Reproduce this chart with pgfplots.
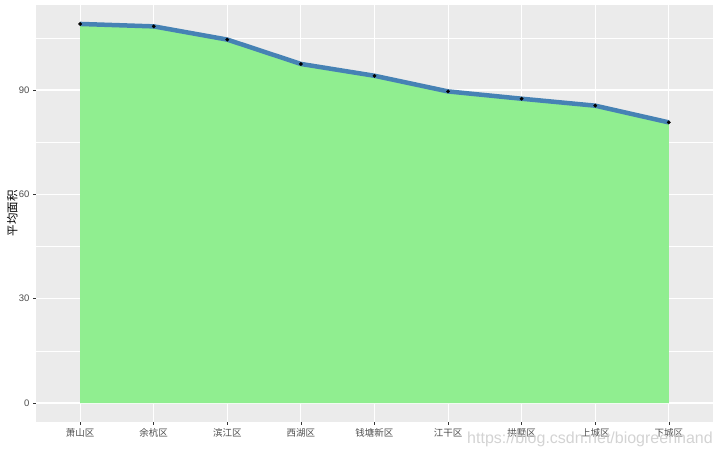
\documentclass[border=0pt]{standalone}
\usepackage{fontspec}
\setmainfont{Liberation Sans}
\newfontfamily\cjk{Noto Sans CJK SC}
\usepackage{pgfplots}
\pgfplotsset{compat=1.18}
\definecolor{panel}{HTML}{EBEBEB}
\definecolor{lgreen}{HTML}{90EE90}
\definecolor{steel}{HTML}{4682B4}
\definecolor{tickc}{HTML}{4D4D4D}
\definecolor{tickm}{HTML}{333333}
\definecolor{wm}{HTML}{C8C8C8}
\begin{document}
\begin{tikzpicture}
\useasboundingbox (0pt,0pt) rectangle (720pt,457pt);
\begin{axis}[
  at={(36pt,35pt)}, anchor=south west,
  scale only axis, width=677pt, height=417pt,
  xmin=0.4, xmax=9.6, ymin=-5.45, ymax=114.45,
  axis background/.style={fill=panel},
  axis line style={draw=none},
  xtick={1,...,9},
  xticklabels={萧山区,余杭区,滨江区,西湖区,钱塘新区,江干区,拱墅区,上城区,下城区},
  ytick={0,30,60,90},
  minor ytick={15,45,75,105},
  grid=both,
  major grid style={white, line width=1.1pt},
  minor grid style={white, line width=0.55pt},
  tick align=outside,
  major tick length=3pt,
  minor tick length=0pt,
  tick pos=left,
  tick style={tickm, line width=0.5pt},
  ticklabel style={tickc, font=\fontsize{9.5}{11}\selectfont},
  xticklabel style={font=\cjk\fontsize{9.5}{11}\selectfont},
  /pgf/number format/assume math mode=true,
  ylabel={\cjk 平均面积},
  ylabel style={at={(axis description cs:-0.035,0.5)}, anchor=center, font=\fontsize{11.5}{13}\selectfont, black},
]
\addplot[fill=lgreen, draw=none] coordinates {
  (1,0) (1,109.0) (2,108.3) (3,104.5) (4,97.5) (5,94.1) (6,89.6) (7,87.5) (8,85.5) (9,80.7) (9,0)
} -- cycle;
\addplot[steel, line width=4.5pt, line join=round] coordinates {
  (1,109.0) (2,108.3) (3,104.5) (4,97.5) (5,94.1) (6,89.6) (7,87.5) (8,85.5) (9,80.7)
};
\addplot[only marks, mark=*, mark size=1.7pt, black] coordinates {
  (1,109.0) (2,108.3) (3,104.5) (4,97.5) (5,94.1) (6,89.6) (7,87.5) (8,85.5) (9,80.7)
};
\end{axis}
\node[text=wm, opacity=0.8] at (590pt,18pt) {\fontsize{16}{18}\selectfont https://blog.csdn.net/biogreenhand};
\end{tikzpicture}
\end{document}
